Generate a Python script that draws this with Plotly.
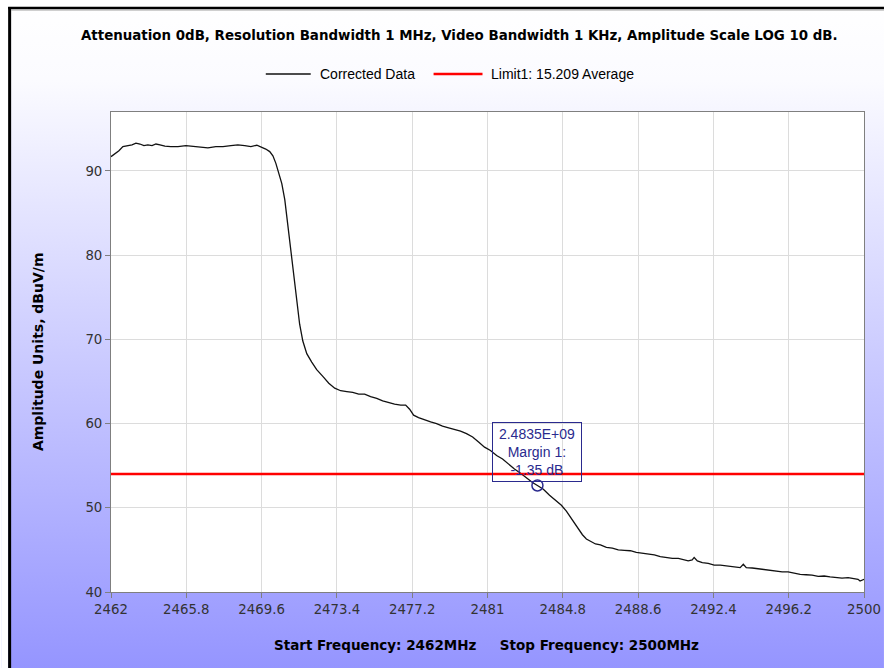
import base64
import plotly.graph_objects as go

# ---- data -----------------------------------------------------------------
FREQ_MHZ = [
    2462.0, 2462.2, 2462.4, 2462.6, 2462.86, 2463.06, 2463.26, 2463.46, 2463.66,
    2463.86, 2464.07, 2464.27, 2464.47, 2464.72, 2465.02, 2465.38, 2465.78,
    2466.13, 2466.54, 2466.89, 2467.29, 2467.65, 2468.05, 2468.40, 2468.75,
    2469.06, 2469.36, 2469.61, 2469.81, 2470.01, 2470.17, 2470.32, 2470.47,
    2470.62, 2470.77, 2470.92, 2471.07, 2471.22, 2471.37, 2471.52, 2471.68,
    2471.88, 2472.13, 2472.38, 2472.69, 2472.99, 2473.29, 2473.59, 2473.90,
    2474.20, 2474.50, 2474.80, 2475.10, 2475.41, 2475.71, 2476.01, 2476.31,
    2476.62, 2476.87, 2477.07, 2477.27, 2477.52, 2477.83, 2478.13, 2478.43,
    2478.73, 2479.04, 2479.34, 2479.64, 2479.94, 2480.25, 2480.55, 2480.85,
    2481.15, 2481.46, 2481.76, 2482.06, 2482.36, 2482.67, 2482.97, 2483.27,
    2483.52, 2483.82, 2484.13, 2484.43, 2484.73, 2484.98, 2485.19, 2485.39,
    2485.59, 2485.79, 2485.99, 2486.19, 2486.45, 2486.70, 2487.00, 2487.30,
    2487.60, 2487.91, 2488.21, 2488.51, 2488.81, 2489.12, 2489.42, 2489.72,
    2490.02, 2490.33, 2490.63, 2490.93, 2491.13, 2491.33, 2491.43, 2491.59,
    2491.84, 2492.14, 2492.44, 2492.75, 2493.05, 2493.35, 2493.60, 2493.75,
    2493.91, 2494.06, 2494.36, 2494.66, 2494.97, 2495.27, 2495.57, 2495.87,
    2496.17, 2496.48, 2496.78, 2497.08, 2497.38, 2497.69, 2497.99, 2498.29,
    2498.59, 2498.89, 2499.20, 2499.50, 2499.70, 2499.80, 2500.0,
]
AMPLITUDE_DBUV = [
    91.7, 92.0, 92.4, 92.9, 93.0, 93.1, 93.3, 93.2, 93.0,
    93.1, 93.0, 93.2, 93.1, 92.95, 92.9, 92.9, 93.0,
    92.9, 92.8, 92.75, 92.9, 92.9, 93.0, 93.1, 93.0,
    92.9, 93.05, 92.8, 92.6, 92.3, 91.8, 90.9, 89.8,
    88.5, 86.6, 83.5, 80.6, 77.4, 74.6, 71.8, 69.8,
    68.3, 67.3, 66.4, 65.6, 64.8, 64.2, 63.9, 63.8,
    63.7, 63.5, 63.5, 63.2, 63.0, 62.7, 62.5, 62.3,
    62.2, 62.2, 61.7, 61.0, 60.7, 60.4, 60.2, 60.0,
    59.7, 59.5, 59.3, 59.1, 58.8, 58.4, 57.8, 57.2,
    56.8, 56.2, 55.8, 55.2, 54.6, 54.1, 53.5, 53.0,
    52.65, 52.2, 51.5, 50.9, 50.3, 49.6, 48.9, 48.1,
    47.5, 46.8, 46.3, 46.0, 45.7, 45.6, 45.3, 45.2,
    45.0, 44.95, 44.9, 44.7, 44.6, 44.5, 44.4, 44.2,
    44.1, 44.0, 44.0, 43.85, 43.7, 43.8, 44.1, 43.7,
    43.5, 43.4, 43.2, 43.2, 43.1, 43.0, 43.0, 42.9,
    43.3, 42.9, 42.85, 42.75, 42.7, 42.55, 42.5, 42.4,
    42.4, 42.25, 42.1, 42.05, 42.0, 41.85, 41.9, 41.8,
    41.7, 41.65, 41.7, 41.55, 41.5, 41.3, 41.5,
]

LIMIT_DBUV = 54.0
MARKER_FREQ_MHZ = 2483.52
MARKER_MARGIN_DB = -1.35
MARKER_AMPLITUDE = LIMIT_DBUV + MARKER_MARGIN_DB
MARKER_LABEL = ["2.4835E+09", "Margin 1:", "-1.35 dB"]

X_TICKS = [2462, 2465.8, 2469.6, 2473.4, 2477.2, 2481, 2484.8, 2488.6, 2492.4, 2496.2, 2500]
X_TICK_LABELS = ["2462", "2465.8", "2469.6", "2473.4", "2477.2", "2481",
                 "2484.8", "2488.6", "2492.4", "2496.2", "2500"]
Y_TICKS = [40, 50, 60, 70, 80, 90]

TITLE = "Attenuation 0dB, Resolution Bandwidth 1 MHz, Video Bandwidth 1 KHz, Amplitude Scale LOG 10 dB."
X_TITLE = "Start Frequency: 2462MHz" + "&nbsp;" * 5 + "Stop Frequency: 2500MHz"
Y_TITLE = "Amplitude Units, dBuV/m"
SERIES_NAMES = ["Corrected Data", "Limit1: 15.209 Average"]

# ---- page geometry --------------------------------------------------------
# layout is designed on an 884-wide grid; SX widens it to the rendered page
SX = 893 / 884
W, H = round(884 * SX), 668
ML, MR, MT, MB = 110 * SX, 20 * SX, 112, 76
PW, PH = W - ML - MR, H - MT - MB


def px_x(p):
    return (p * SX - ML) / PW


def px_y(p):
    return (H - MB - p) / PH


NAVY = "#2a2a8e"
BODY_FONT = "DejaVu Sans"
LEGEND_FONT = dict(family="Liberation Sans", size=14, color="#000000")

fig = go.Figure()

fig.add_trace(go.Scatter(
    x=FREQ_MHZ, y=AMPLITUDE_DBUV, mode="lines", name=SERIES_NAMES[0],
    line=dict(color="#111111", width=1.3), showlegend=False,
))
fig.add_trace(go.Scatter(
    x=[X_TICKS[0], X_TICKS[-1]], y=[LIMIT_DBUV, LIMIT_DBUV], mode="lines",
    name=SERIES_NAMES[1], line=dict(color="#ff0000", width=2.5), showlegend=False,
))
fig.add_trace(go.Scatter(
    x=[MARKER_FREQ_MHZ], y=[MARKER_AMPLITUDE], mode="markers", showlegend=False,
    marker=dict(symbol="circle-open", size=11, color=NAVY, line=dict(width=1.5, color=NAVY)),
))

# background gradient for the whole page
svg = (
    f"<svg xmlns='http://www.w3.org/2000/svg' width='{W}' height='{H}' "
    f"viewBox='0 0 {W} {H}' preserveAspectRatio='none'>"
    "<defs><linearGradient id='g' x1='0' y1='0' x2='0' y2='1'>"
    "<stop offset='0' stop-color='#ffffff'/>"
    "<stop offset='0.12' stop-color='#fbfbff'/>"
    "<stop offset='1' stop-color='#9595ff'/>"
    "</linearGradient></defs>"
    f"<rect width='{W}' height='{H}' fill='url(#g)'/></svg>"
)
bg_uri = "data:image/svg+xml;base64," + base64.b64encode(svg.encode()).decode()
fig.add_layout_image(dict(
    source=bg_uri, xref="paper", yref="paper",
    x=-ML / PW, y=px_y(0), sizex=W / PW, sizey=H / PH,
    xanchor="left", yanchor="top", sizing="stretch", layer="below",
))

shapes = [
    # white plotting area
    dict(type="rect", xref="paper", yref="paper", x0=0, x1=1, y0=0, y1=1,
         fillcolor="white", line=dict(width=0), layer="below"),
    # white strips outside the frame
    dict(type="rect", xref="paper", yref="paper", x0=px_x(0), x1=px_x(7),
         y0=px_y(H), y1=px_y(0), fillcolor="white", line=dict(width=0), layer="below"),
    dict(type="rect", xref="paper", yref="paper", x0=px_x(0), x1=px_x(884),
         y0=px_y(7), y1=px_y(0), fillcolor="white", line=dict(width=0), layer="below"),
    # frame
    dict(type="line", xref="paper", yref="paper", x0=px_x(8.5), x1=px_x(8.5),
         y0=px_y(H), y1=px_y(7), line=dict(color="#000000", width=3)),
    dict(type="line", xref="paper", yref="paper", x0=px_x(7), x1=px_x(884),
         y0=px_y(8), y1=px_y(8), line=dict(color="#000000", width=2.5)),
    dict(type="line", xref="paper", yref="paper", x0=px_x(10), x1=px_x(884),
         y0=px_y(10), y1=px_y(10), line=dict(color="#a0a0a0", width=1)),
    # legend samples
    dict(type="line", xref="paper", yref="paper", x0=px_x(265), x1=px_x(310),
         y0=px_y(74), y1=px_y(74), line=dict(color="#111111", width=1.3)),
    dict(type="line", xref="paper", yref="paper", x0=px_x(433), x1=px_x(482),
         y0=px_y(74), y1=px_y(74), line=dict(color="#ff0000", width=2.5)),
]

annotations = [
    dict(text=f"<b>{TITLE}</b>", xref="paper", yref="paper", x=px_x(459), y=px_y(35),
         showarrow=False, xanchor="center", yanchor="middle",
         font=dict(family=BODY_FONT, size=13.4, color="#000000")),
    dict(text=SERIES_NAMES[0], xref="paper", yref="paper", x=px_x(317), y=px_y(74),
         showarrow=False, xanchor="left", yanchor="middle", font=LEGEND_FONT),
    dict(text=SERIES_NAMES[1], xref="paper", yref="paper", x=px_x(489), y=px_y(74),
         showarrow=False, xanchor="left", yanchor="middle", font=LEGEND_FONT),
    dict(text=f"<b>{X_TITLE}</b>", xref="paper", yref="paper", x=px_x(486), y=px_y(645),
         showarrow=False, xanchor="center", yanchor="middle",
         font=dict(family=BODY_FONT, size=13.5, color="#000000")),
    dict(text=f"<b>{Y_TITLE}</b>", xref="paper", yref="paper", x=px_x(37), y=px_y(352),
         showarrow=False, xanchor="center", yanchor="middle", textangle=-90,
         font=dict(family=BODY_FONT, size=14, color="#000000")),
    dict(text="<br>".join(MARKER_LABEL),
         x=MARKER_FREQ_MHZ, y=MARKER_AMPLITUDE, xref="x", yref="y",
         showarrow=False, xanchor="center", yanchor="bottom", yshift=3,
         width=84, height=54, align="center", valign="middle",
         bordercolor=NAVY, borderwidth=1, borderpad=2,
         font=dict(family="Liberation Sans", size=14, color=NAVY)),
]

axis_common = dict(
    showline=True, linecolor="#7f7f7f", linewidth=1, mirror=True,
    showgrid=True, gridcolor="#dcdcdc", gridwidth=1,
    ticks="outside", ticklen=5, tickcolor="#7f7f7f",
    tickfont=dict(family=BODY_FONT, size=13.3, color="#333333"),
    zeroline=False,
)

fig.update_layout(
    width=W, height=H, autosize=False,
    margin=dict(l=ML, r=MR, t=MT, b=MB, pad=0),
    paper_bgcolor="white", plot_bgcolor="white",
    shapes=shapes, annotations=annotations, showlegend=False,
    xaxis=dict(range=[X_TICKS[0], X_TICKS[-1]], tickmode="array",
               tickvals=X_TICKS, ticktext=X_TICK_LABELS, **axis_common),
    yaxis=dict(range=[40, 97], tickmode="array", tickvals=Y_TICKS, **axis_common),
)

fig.write_html("out.html", config={"responsive": False})
